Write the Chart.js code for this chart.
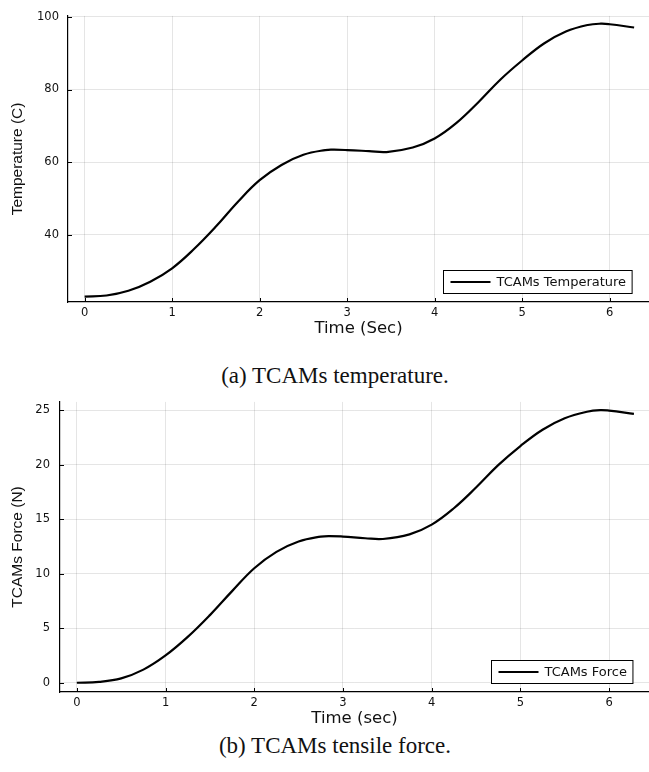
<!DOCTYPE html>
<html>
<head>
<meta charset="utf-8">
<script src="https://cdn.jsdelivr.net/npm/chart.js@4.4.0/dist/chart.umd.min.js"></script>
<style>
  body { margin:0; background:#fff; width:649px; height:772px; position:relative; overflow:hidden; }
  canvas { position:absolute; left:0; }
  #tempChart { top:0; }
  #forceChart { top:385px; }
  .caption { position:absolute; left:0; width:670px; text-align:center; font-family:'Liberation Serif','Times New Roman',serif; font-size:23px; color:#111; line-height:1; }
</style>
</head>
<body>
<canvas id="tempChart" width="649" height="345"></canvas>
<div class="caption" style="top:364px;">(a) TCAMs temperature.</div>
<canvas id="forceChart" width="649" height="345"></canvas>
<div class="caption" style="top:734px;">(b) TCAMs tensile force.</div>
<script>
// time samples (sec) and the two measured series
const timeSec = [0, 0.25, 0.5, 0.75, 1.0, 1.25, 1.5, 1.75, 2.0, 2.25, 2.5, 2.75, 2.85, 3.0, 3.25, 3.45, 3.75, 4.0, 4.25, 4.5, 4.75, 5.0, 5.25, 5.5, 5.75, 5.9, 6.0, 6.28];
const tempC = [22.9, 23.2, 24.5, 27.0, 30.7, 36.0, 42.2, 49.0, 55.0, 59.2, 62.0, 63.3, 63.4, 63.3, 63.0, 62.75, 64.0, 66.5, 70.8, 76.5, 82.7, 88.0, 92.7, 96.0, 97.8, 98.15, 98.0, 97.1];
const forceN = [0, 0.08, 0.4, 1.2, 2.5, 4.2, 6.2, 8.4, 10.5, 12.0, 12.95, 13.4, 13.45, 13.4, 13.25, 13.18, 13.6, 14.5, 16.0, 17.9, 19.95, 21.7, 23.2, 24.25, 24.85, 25.0, 24.95, 24.65];

const tickFont = { family: 'DejaVu Sans', size: 11.5 };
const gridColor = 'rgba(0,0,0,0.1)';

// legend box in the lower right of the plot area + inward tick marks
const plotExtras = {
  id: 'plotExtras',
  afterDraw(chart) {
    const ctx = chart.ctx, area = chart.chartArea;
    const xs = chart.scales.x, ys = chart.scales.y;
    ctx.save();
    ctx.strokeStyle = '#000';
    ctx.lineWidth = 1;
    xs.ticks.forEach(t => {
      const px = Math.round(xs.getPixelForValue(t.value)) + 0.5;
      ctx.beginPath(); ctx.moveTo(px, area.bottom); ctx.lineTo(px, area.bottom - 4); ctx.stroke();
    });
    ys.ticks.forEach(t => {
      const py = Math.round(ys.getPixelForValue(t.value)) + 0.5;
      ctx.beginPath(); ctx.moveTo(area.left, py); ctx.lineTo(area.left + 4, py); ctx.stroke();
    });

    const label = chart.data.datasets[0].label;
    ctx.font = '13px "DejaVu Sans"';
    const tw = ctx.measureText(label).width;
    const w = 7 + 40 + 6 + tw + 6, h = 23;
    const bx = Math.round(area.right - 17 - w) + 0.5;
    const by = Math.round(area.bottom - 9 - h) + 0.5;
    ctx.fillStyle = '#fff';
    ctx.fillRect(bx, by, w, h);
    ctx.strokeRect(bx, by, w, h);
    ctx.lineWidth = 2;
    ctx.beginPath(); ctx.moveTo(bx + 7, by + h / 2); ctx.lineTo(bx + 47, by + h / 2); ctx.stroke();
    ctx.fillStyle = '#111';
    ctx.textBaseline = 'middle';
    ctx.fillText(label, bx + 53, by + h / 2 + 0.5);
    ctx.restore();
  }
};

function makeChart(id, label, values, opts) {
  return new Chart(document.getElementById(id), {
    type: 'line',
    data: {
      datasets: [{
        label: label,
        data: timeSec.map((t, i) => ({ x: t, y: values[i] })),
        borderColor: '#000',
        borderWidth: 2.2,
        pointRadius: 0,
        tension: 0.4,
        fill: false
      }]
    },
    options: {
      responsive: false,
      animation: false,
      devicePixelRatio: 1,
      layout: { padding: { top: opts.padTop, left: 0, right: 0, bottom: 0 } },
      plugins: { legend: { display: false }, tooltip: { enabled: false } },
      scales: {
        x: {
          type: 'linear', min: -0.19, max: 6.45,
          ticks: { stepSize: 1, includeBounds: false, padding: 4, font: tickFont, color: '#111', maxRotation: 0 },
          grid: { color: gridColor, drawTicks: false },
          border: { color: '#000', width: 1.2 },
          title: { display: true, text: opts.xTitle, color: '#111', font: { family: 'DejaVu Sans', size: 16.5 }, padding: { top: 0, bottom: opts.xTitlePad } },
          afterFit: s => { s.height = opts.xHeight; }
        },
        y: {
          type: 'linear', min: opts.yMin, max: opts.yMax,
          ticks: { stepSize: opts.yStep, includeBounds: false, padding: opts.yPad, font: tickFont, color: '#111' },
          grid: { color: gridColor, drawTicks: false },
          border: { color: '#000', width: 1.2 },
          title: { display: true, text: opts.yTitle, color: '#111', font: { family: 'Liberation Sans', size: 15.5 }, padding: { top: 8, bottom: 0 } },
          afterFit: s => { s.width = opts.yWidth; }
        }
      }
    },
    plugins: [plotExtras]
  });
}

makeChart('tempChart', 'TCAMs Temperature', tempC, {
  padTop: 6, xHeight: 43, xTitlePad: 6, xTitle: 'Time (Sec)',
  yMin: 21.4, yMax: 100.3, yStep: 20, yPad: 9, yWidth: 68, yTitle: 'Temperature (C)'
});

makeChart('forceChart', 'TCAMs Force', forceN, {
  padTop: 9, xHeight: 38, xTitlePad: 1, xTitle: 'Time (sec)',
  yMin: -0.85, yMax: 25.75, yStep: 5, yPad: 10, yWidth: 60, yTitle: 'TCAMs Force (N)'
});
</script>
</body>
</html>
